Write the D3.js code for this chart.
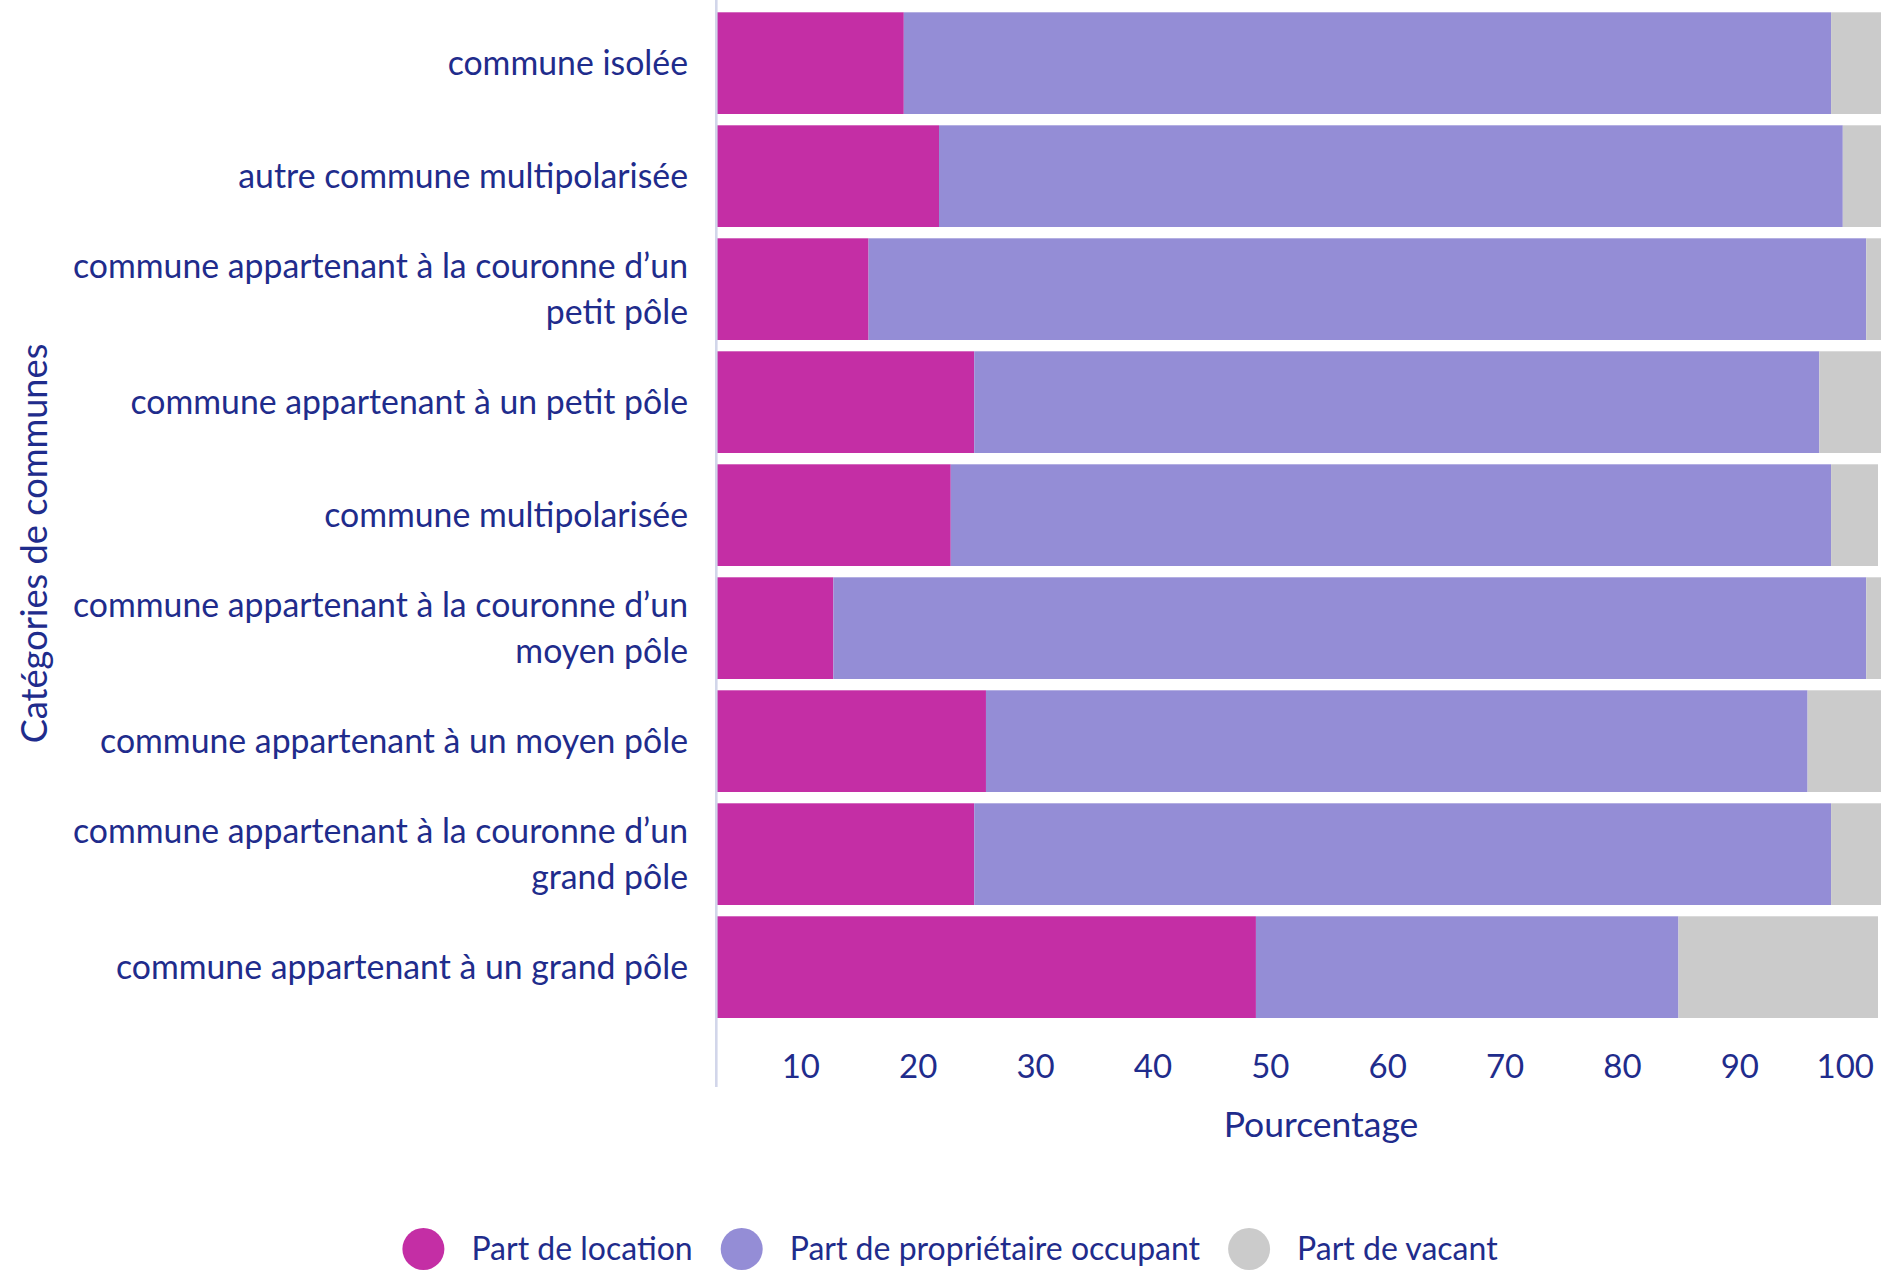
<!DOCTYPE html>
<html lang="fr">
<head>
<meta charset="utf-8">
<title>Statut d'occupation des logements par catégorie de communes</title>
<script src="https://cdn.jsdelivr.net/npm/d3@7"></script>
<style>
  html, body { margin: 0; padding: 0; background: #ffffff; }
  svg { display: block; font-family: "Lato", "Open Sans", sans-serif; }
</style>
</head>
<body>
<svg id="chart"></svg>
<script>
// Catégories de communes (de haut en bas)
const categories = [
  "commune isolée",
  "autre commune multipolarisée",
  "commune appartenant à la couronne d’un petit pôle",
  "commune appartenant à un petit pôle",
  "commune multipolarisée",
  "commune appartenant à la couronne d’un moyen pôle",
  "commune appartenant à un moyen pôle",
  "commune appartenant à la couronne d’un grand pôle",
  "commune appartenant à un grand pôle"
];

// Parts en pourcentage
const partLocation     = [16, 19, 13, 22, 20, 10, 23, 22, 46];
const partProprietaire = [79, 77, 85, 72, 75, 88, 70, 73, 36];
const partVacant       = [ 5,  4,  2,  6,  4,  2,  7,  5, 17];

const seriesKeys   = ["location", "proprietaire", "vacant"];
const seriesLabels = ["Part de location", "Part de propriétaire occupant", "Part de vacant"];
const seriesColors = ["#c42ea5", "#948dd6", "#cbcbcb"];

const xTicks = [10, 20, 30, 40, 50, 60, 70, 80, 90, 100];
const xTitle = "Pourcentage";
const yTitle = "Catégories de communes";

// ---- mise en page ----
const W = 1881, H = 1272;
const textColor = "#1f2c8c";
const plotLeft = 716;
const axisBottom = 1087;

const svg = d3.select("#chart").attr("width", W).attr("height", H);

const rows = categories.map((c, i) => ({
  category: c,
  location: partLocation[i],
  proprietaire: partProprietaire[i],
  vacant: partVacant[i]
}));
const stacked = d3.stack().keys(seriesKeys)(rows);

const x = d3.scaleLinear().domain([0, 100]).range([plotLeft, plotLeft + 1173.75]);
const y = d3.scaleBand().domain(categories).range([6.65, 1023.65])
  .paddingInner(0.1).paddingOuter(0.05);
const color = d3.scaleOrdinal().domain(seriesKeys).range(seriesColors);

svg.append("defs").append("clipPath").attr("id", "plot-clip")
  .append("rect").attr("x", plotLeft).attr("y", 0).attr("width", W - plotLeft).attr("height", axisBottom);

// Barres empilées
svg.append("g").attr("clip-path", "url(#plot-clip)")
  .selectAll("g")
  .data(stacked)
  .join("g")
    .attr("fill", d => color(d.key))
  .selectAll("rect")
  .data(d => d)
  .join("rect")
    .attr("x", d => x(d[0]))
    .attr("y", d => y(d.data.category))
    .attr("width", d => x(d[1]) - x(d[0]))
    .attr("height", y.bandwidth());

// Ligne d'axe vertical
svg.append("line")
  .attr("x1", plotLeft + 0.3).attr("x2", plotLeft + 0.3)
  .attr("y1", 0).attr("y2", axisBottom)
  .attr("stroke", "#d2d6ea").attr("stroke-width", 2.6);

// Axe des catégories : libellés alignés à droite, renvoyés à la ligne
const labelRight = plotLeft - 28;
const labelFont = 33.8;
const lineHeight = 45.5;
const maxLabelWidth = 645;

const catG = svg.append("g")
  .attr("font-size", labelFont)
  .attr("fill", textColor)
  .attr("text-anchor", "end");

categories.forEach(cat => {
  const t = catG.append("text").attr("x", labelRight);
  const words = cat.split(" ");
  const lines = [];
  let line = [];
  const probe = catG.append("text").attr("visibility", "hidden");
  words.forEach(w => {
    const test = line.concat(w).join(" ");
    probe.text(test);
    if (probe.node().getComputedTextLength() > maxLabelWidth && line.length) {
      lines.push(line.join(" "));
      line = [w];
    } else {
      line.push(w);
    }
  });
  lines.push(line.join(" "));
  probe.remove();
  const cy = y(cat) + y.bandwidth() / 2;
  const first = cy - (lines.length - 1) * lineHeight / 2;
  lines.forEach((l, i) => {
    t.append("tspan")
      .attr("x", labelRight)
      .attr("y", first + i * lineHeight)
      .attr("dy", "0.35em")
      .text(l);
  });
});

// Axe des valeurs
const tickShift = -33;
const xAxis = svg.append("g")
  .attr("transform", `translate(0, ${1047})`)
  .call(d3.axisBottom(x).tickValues(xTicks).tickSize(0).tickPadding(0).tickFormat(d3.format("d")));
xAxis.select(".domain").remove();
xAxis.selectAll("text")
  .attr("font-family", "Lato, sans-serif")
  .attr("font-size", 33)
  .attr("fill", textColor)
  .attr("dy", "0.95em")
  .attr("dx", tickShift)
  .each(function () {
    // garde le dernier libellé dans la zone visible
    const b = this.getBoundingClientRect();
    const limit = W - 7;
    if (b.right > limit) d3.select(this).attr("dx", tickShift - (b.right - limit));
  });

// Titres d'axes
svg.append("text")
  .attr("x", 1321).attr("y", 1125).attr("dy", "0.35em")
  .attr("text-anchor", "middle")
  .attr("font-size", 35.5)
  .attr("fill", textColor)
  .text(xTitle);

svg.append("text")
  .attr("transform", `translate(34, ${axisBottom / 2}) rotate(-90)`)
  .attr("dy", "0.35em")
  .attr("text-anchor", "middle")
  .attr("font-size", 36.2)
  .attr("fill", textColor)
  .text(yTitle);

// Légende
const legendY = 1249;
const legend = svg.append("g").attr("font-size", 32).attr("fill", textColor);
let cursor = 0;
seriesLabels.forEach((lab, i) => {
  const g = legend.append("g");
  g.append("circle").attr("cx", 21).attr("cy", 0).attr("r", 21).attr("fill", seriesColors[i]);
  const t = g.append("text").attr("x", 69).attr("y", 0).attr("dy", "0.35em").text(lab);
  const w = 69 + t.node().getComputedTextLength();
  g.attr("transform", `translate(${cursor}, 0)`);
  cursor += w + 28;
});
const legendWidth = cursor - 28;
legend.attr("transform", `translate(${950 - legendWidth / 2}, ${legendY})`);
</script>
</body>
</html>
